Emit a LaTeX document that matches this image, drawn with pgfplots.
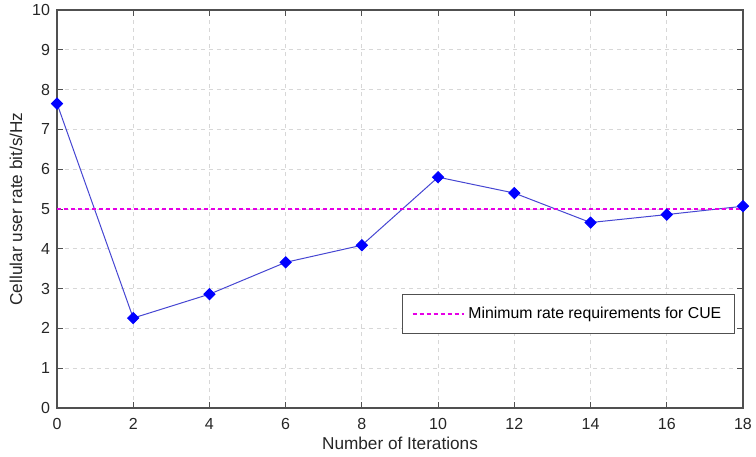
\documentclass[border=0pt]{standalone}
\usepackage{pgfplots}
\pgfplotsset{compat=1.18}
\usepackage{fontspec}
\setmainfont{Liberation Sans}
\definecolor{axgray}{RGB}{80,80,80}
\definecolor{gridgray}{RGB}{215,215,215}
\definecolor{lineblue}{RGB}{70,70,210}
\definecolor{mag}{RGB}{230,0,230}
\begin{document}
\begin{tikzpicture}
\useasboundingbox (0,0) rectangle (378pt,228pt);
\begin{axis}[
  at={(28.5pt,24pt)}, anchor=south west,
  scale only axis, width=343pt, height=199pt,
  xmin=0, xmax=18, ymin=0, ymax=10,
  xtick={0,2,...,18}, ytick={0,1,...,10},
  tick align=inside, tick pos=both,
  major tick length=3pt,
  axis line style={axgray, line width=0.6pt},
  every tick/.style={axgray, line width=0.5pt},
  grid=major,
  major grid style={gridgray, dash pattern=on 2pt off 2pt, line width=0.4pt},
  tick label style={font=\fontsize{8}{9}\selectfont, text=black!85},
  xticklabel style={yshift=-1.5pt},
  /pgf/number format/assume math mode=true,
  xlabel={Number of Iterations},
  ylabel={Cellular user rate bit/s/Hz},
  label style={font=\fontsize{8.6}{10}\selectfont, text=black!85},
  xlabel style={yshift=3pt},
  ylabel style={yshift=-2pt},
  legend style={at={(0.988,0.286)}, anchor=north east, draw=axgray,
    font=\fontsize{7.9}{10}\selectfont, inner xsep=4.5pt, inner ysep=4pt, line width=0.5pt},
  legend image code/.code={\draw[#1] (0cm,0cm) -- (0.9cm,0cm);},
]
\addplot[lineblue, line width=0.5pt, mark=square*, mark size=1.95pt,
  mark options={solid, fill=blue, draw=blue, rotate=45}, forget plot]
  coordinates {(0,7.65) (2,2.26) (4,2.86) (6,3.66) (8,4.09) (10,5.80) (12,5.40) (14,4.66) (16,4.86) (18,5.07)};
\addplot[color=mag, dash pattern=on 2pt off 1.5pt, line width=0.6pt, mark=none] coordinates {(0,5) (18,5)};
\addlegendentry{Minimum rate requirements for CUE}
\end{axis}
\end{tikzpicture}
\end{document}
